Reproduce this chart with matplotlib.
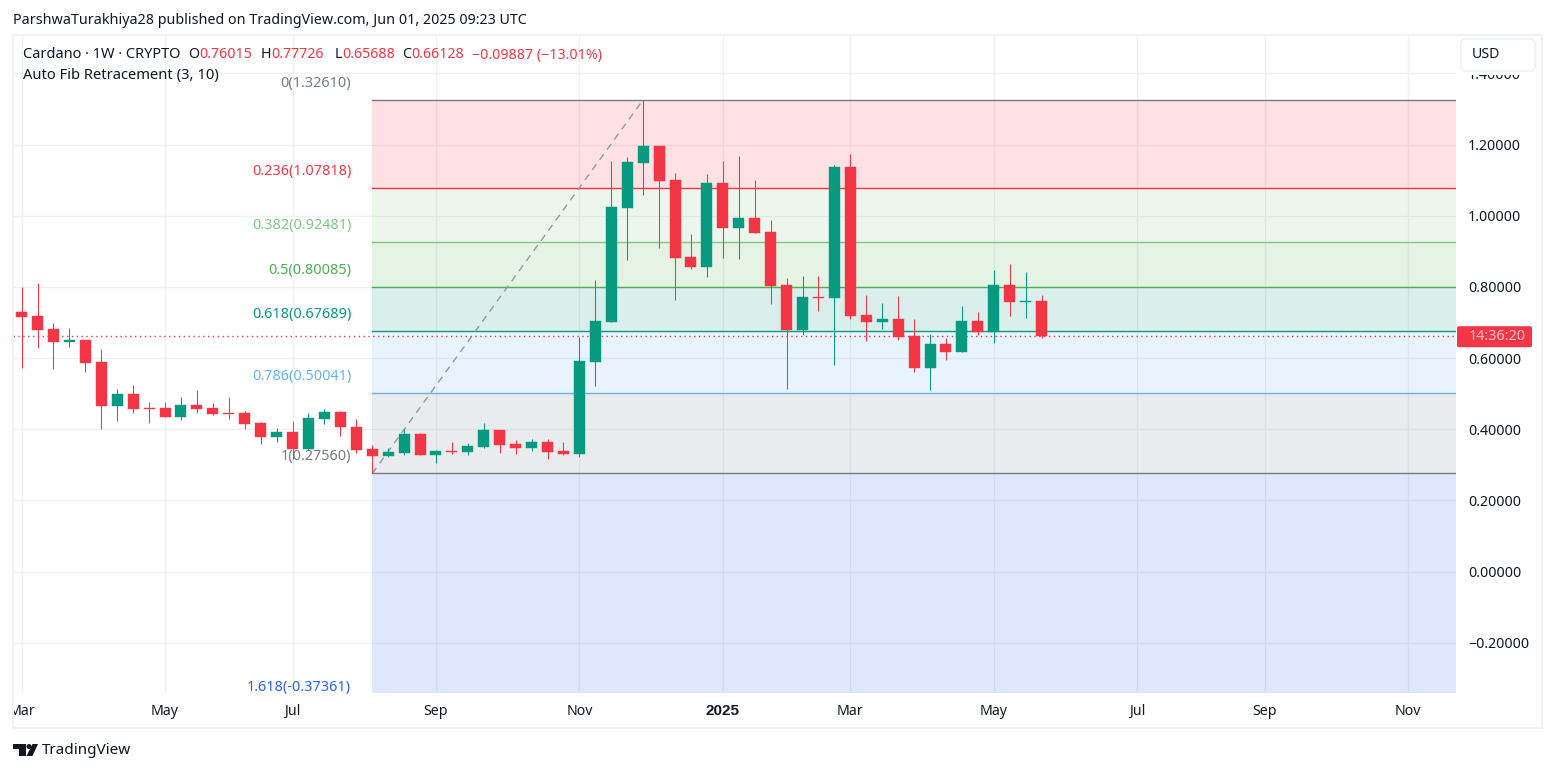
import matplotlib
matplotlib.use('Agg')
import matplotlib.pyplot as plt
from matplotlib.patches import FancyBboxPatch, Rectangle, Polygon, Circle

plt.rcParams['font.family'] = ['Noto Sans', 'DejaVu Sans']

opens = [.729, .718, .682, .645, .651, .589, .465, .499, .460, .460, .434, .468, .460, .445, .445, .417, .378, .392, .344, .429, .448, .406,
         .344, .325, .333, .386, .327, .339, .336, .350, .398, .358, .347, .364, .339, .330, .589, .701, 1.022, 1.148, 1.196, 1.100, .884,
         .856, 1.092, .965, .994, .954, .805, .679, .772, .769, 1.137, .721, .701, .710, .662, .572, .639, .617, .704, .673, .805, .757, .76015]
closes = [.715, .679, .645, .651, .586, .465, .499, .457, .457, .434, .468, .457, .443, .443, .415, .378, .392, .344, .431, .448, .406, .341,
          .325, .336, .386, .327, .339, .336, .353, .398, .356, .347, .364, .336, .330, .592, .704, 1.024, 1.151, 1.196, 1.098, .881, .856,
          1.092, .965, .994, .951, .802, .679, .772, .769, 1.137, .718, .701, .710, .659, .572, .639, .617, .704, .673, .805, .757, .760, .66128]
highs = [.800, .810, .698, .684, .651, .625, .513, .524, .476, .476, .490, .510, .474, .490, .451, .420, .403, .423, .445, .457, .451, .429,
         .356, .347, .401, .389, .341, .364, .361, .417, .398, .370, .372, .372, .364, .659, .819, 1.154, 1.165, 1.3261, 1.196, 1.120, .949,
         1.117, 1.154, 1.168, 1.100, .988, .825, .831, .831, 1.143, 1.173, .777, .755, .774, .710, .668, .656, .746, .729, .847, .864, .842, .77726]
lows = [.573, .628, .569, .631, .561, .401, .423, .445, .417, .434, .426, .445, .440, .429, .401, .358, .364, .316, .341, .415, .381, .333,
        .2756, .322, .327, .327, .305, .330, .327, .347, .333, .330, .339, .316, .327, .322, .521, .701, .875, 1.058, .909, .763, .850,
        .828, .881, .878, .951, .752, .513, .665, .732, .580, .710, .648, .682, .651, .561, .510, .594, .617, .665, .642, .718, .712, .65688]

fib_ratios = ['0', '0.236', '0.382', '0.5', '0.618', '0.786', '1', '1.618']
fib_prices = [1.32610, 1.07818, 0.92481, 0.80085, 0.67689, 0.50041, 0.27560, -0.37361]
fib_colors = ['#787b86', '#f23645', '#81c784', '#4caf50', '#089981', '#64b5f6', '#787b86', '#2962ff']
fib_start, fib_end = 22, 39

price_ticks = [1.4, 1.2, 1.0, 0.8, 0.6, 0.4, 0.2, 0.0, -0.2]
price_labels = ['1.40000', '1.20000', '1.00000', '0.80000', '0.60000', '0.40000', '0.20000', '0.00000', '\u22120.20000']
month_pos = [0, 9, 17, 26, 35, 44, 52, 61, 70, 78, 87]
month_labels = ['Mar', 'May', 'Jul', 'Sep', 'Nov', '2025', 'Mar', 'May', 'Jul', 'Sep', 'Nov']

UP, DOWN = '#089981', '#f23645'
W, H = 1554, 772

fig = plt.figure(figsize=(W / 100, H / 100), dpi=100, facecolor='white')
ax = fig.add_axes([13 / W, 1 - 693 / H, (1456 - 13) / W, (693 - 35) / H])
ax.set_xlim(-0.54, 90)
ax.set_ylim(-0.3415, 1.508)
for s in ax.spines.values():
    s.set_visible(False)

ax.set_axisbelow(True)
ax.grid(True, color='#f0f1f3', lw=1)
ax.set_yticks(price_ticks, price_labels)
ax.set_xticks(month_pos, month_labels)
ax.tick_params(length=0, labelsize=10.2, labelcolor='#131722')
ax.yaxis.tick_right()
ax.tick_params(axis='y', pad=8.6)
ax.tick_params(axis='x', pad=8)
bold_tick = ax.get_xticklabels()[5]
bold_tick.set_fontfamily('Liberation Sans')
bold_tick.set_fontweight('bold')
bold_tick.set_fontsize(11)

# fib bands and levels
for i in range(len(fib_prices) - 1):
    ax.axhspan(fib_prices[i + 1], fib_prices[i], xmin=(fib_start + 0.54) / 90.54, color=fib_colors[i + 1], alpha=0.15, lw=0, zorder=1)
for r, p, c in zip(fib_ratios, fib_prices, fib_colors):
    ax.axhline(p, xmin=(fib_start + 0.54) / 90.54, color=c, lw=1, zorder=2)
    ax.annotate(f'{r}({p:.5f})', xy=(fib_start, p), xytext=(-21, 16.5), textcoords='offset pixels',
                ha='right', va='center', color=c, fontsize=10.4, annotation_clip=False, zorder=6)

ax.plot([fib_start, fib_end], [fib_prices[6], fib_prices[0]], color='#9598a1', lw=1, ls=(0, (5, 4)), zorder=2)

# candles
for i, (o, h, l, c) in enumerate(zip(opens, highs, lows, closes)):
    col = UP if c >= o else DOWN
    ax.vlines(i, l, h, color=col, lw=0.75, zorder=4, snap=True)
    ax.bar(i, abs(c - o), bottom=min(o, c), width=0.69, color=col, edgecolor=col, lw=0.3, zorder=5)

ax.axhline(closes[-1], color=DOWN, lw=1, ls=(0, (1, 2.5)), zorder=3)

# page chrome, pixel coordinates
top = fig.add_axes([0, 0, 1, 1], zorder=10)
top.set_xlim(0, W)
top.set_ylim(H, 0)
top.axis('off')
top.patch.set_alpha(0)

top.add_patch(Rectangle((0, 694), 13, 34, color='white', lw=0))
top.add_patch(Rectangle((1458, 36), 82, 39, color='white', lw=0))
top.add_patch(Rectangle((13, 34.5), 1528.5, 693, fill=False, ec='#f1f2f4', lw=1.6))
top.add_patch(FancyBboxPatch((1464, 42), 68, 26, boxstyle='round,pad=3,rounding_size=5', fc='white', ec='#f0f1f3', lw=1.2))
top.text(1472, 55, 'USD', fontsize=10.2, color='#131722', va='center')

tag_y = 571.5 - 355.8 * closes[-1]
top.add_patch(FancyBboxPatch((1458, tag_y - 9), 73, 19, boxstyle='round,pad=1,rounding_size=2', fc=DOWN, ec=DOWN, lw=0))
top.text(1469, tag_y + 0.5, '14:36:20', fontsize=10.4, color='#fdc0c6', va='center')

top.text(13, 20.5, 'ParshwaTurakhiya28 published on TradingView.com, Jun 01, 2025 09:23 UTC', fontsize=10.25, color='#131722', va='center')
top.text(23, 55, 'Cardano \u00b7 1W \u00b7 CRYPTO', fontsize=10.5, color='#131722', va='center')
top.text(23, 76, 'Auto Fib Retracement (3, 10)', fontsize=10.6, color='#131722', va='center')
for x, s, c in [(188, 'O', '#131722'), (199, f'{opens[-1]:.5f}', DOWN), (261, 'H', '#131722'), (271, f'{highs[-1]:.5f}', DOWN),
                (335, 'L', '#131722'), (342, f'{lows[-1]:.5f}', DOWN), (402, 'C', '#131722'), (411, f'{closes[-1]:.5f}', DOWN),
                (472, '\u22120.09887 (\u221213.01%)', DOWN)]:
    top.text(x, 55, s, fontsize=10.2, color=c, va='center')

# TV logo
top.add_patch(Polygon([(13, 744), (26, 744), (26, 756), (19, 756), (19, 749), (13, 749)], color='#131722', lw=0))
top.add_patch(Circle((29, 746.5), 2.5, color='#131722', lw=0))
top.add_patch(Polygon([(32.5, 744), (38, 744), (32.5, 756), (26.5, 756)], color='#131722', lw=0))
top.text(42, 751, 'TradingView', fontsize=11, color='#131722', va='center')

fig.savefig('out.png', dpi=100)
